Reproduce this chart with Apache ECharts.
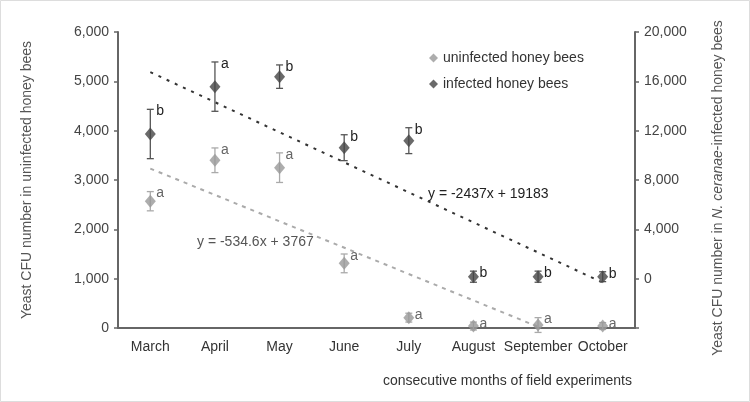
<!DOCTYPE html>
<html><head><meta charset="utf-8">
<script src="https://cdn.jsdelivr.net/npm/echarts@6/dist/echarts.min.js"></script>
<style>html,body{margin:0;padding:0;background:#fff}#c{width:750px;height:402px}</style>
</head><body><div id="c"></div><script>
const months = ['March','April','May','June','July','August','September','October'];
const uninfected = [2570, 3400, 3250, 1310, 210, 40, 60, 40];
const uninfectedErr = [195, 250, 300, 190, 90, 80, 150, 70];
const uninfectedLetters = ['a','a','a','a','a','a','a','a'];
const infected = [11730, 15570, 16380, 10620, 11190, 160, 160, 160];
const infectedErr = [2000, 2000, 950, 1050, 1050, 450, 450, 400];
const infectedLetters = ['b','a','b','b','b','b','b','b'];
const leftAxis = {min: 0, max: 6000, interval: 1000};
const rightAxis = {min: -4000, max: 20000, interval: 4000};
const trendUninfected = [['March', 3232], ['September', 25]];
const trendInfected = [['March', 16746], ['October', -313]];
const eqUninfected = 'y = -534.6x + 3767';
const eqInfected = 'y = -2437x + 19183';

const FONT = '"Liberation Sans", Arial, sans-serif';
const fmt = v => v.toLocaleString('en-US');

function errRender(color, textColor, letters) {
  return function (params, api) {
    const x = api.value(0), v = api.value(1), e = api.value(2);
    const top = api.coord([x, v + e]), bot = api.coord([x, v - e]);
    const cx = top[0], hw = 3.5;
    const st = {stroke: color, lineWidth: 1.3};
    return {type: 'group', children: [
      {type: 'line', shape: {x1: cx, y1: top[1], x2: cx, y2: bot[1]}, style: st},
      {type: 'line', shape: {x1: cx - hw, y1: top[1], x2: cx + hw, y2: top[1]}, style: st},
      {type: 'line', shape: {x1: cx - hw, y1: bot[1], x2: cx + hw, y2: bot[1]}, style: st},
      {type: 'text', style: {text: letters[params.dataIndex], x: cx + 6, y: top[1] + 2,
        textVerticalAlign: 'middle', textAlign: 'left', fill: textColor, font: '14px ' + FONT}}
    ]};
  };
}

const chart = echarts.init(document.getElementById('c'));
chart.setOption({
  animation: false,
  backgroundColor: '#fff',
  textStyle: {fontFamily: FONT},
  grid: {left: 118, right: 115, top: 32, bottom: 74},
  title: {text: 'consecutive months of field experiments', right: 113, top: 369,
    textStyle: {fontSize: 14, fontWeight: 'normal', color: '#333', fontFamily: FONT}},
  legend: {orient: 'vertical', left: 424, top: 46, itemWidth: 9, itemHeight: 9, itemGap: 12,
    icon: 'diamond', textStyle: {fontSize: 14, color: '#333', fontFamily: FONT},
    data: ['uninfected honey bees', 'infected honey bees']},
  xAxis: {type: 'category', data: months, boundaryGap: true,
    axisLine: {lineStyle: {color: '#666', width: 2}},
    axisTick: {length: 3, lineStyle: {color: '#666', width: 1.5}},
    axisLabel: {fontSize: 14, color: '#333', margin: 12, interval: 0, hideOverlap: false},
    splitLine: {show: false}},
  yAxis: [
    {type: 'value', position: 'left', min: leftAxis.min, max: leftAxis.max, interval: leftAxis.interval,
      name: 'Yeast CFU number in uninfected honey bees', nameLocation: 'middle', nameRotate: 90, nameGap: 84,
      nameTextStyle: {fontSize: 14, color: '#555', fontFamily: FONT},
      axisLine: {show: true, lineStyle: {color: '#666', width: 2}},
      axisTick: {show: true, length: 4, lineStyle: {color: '#666', width: 1.5}},
      axisLabel: {fontSize: 14, color: '#444', margin: 9, formatter: fmt},
      splitLine: {show: false}},
    {type: 'value', position: 'right', min: rightAxis.min, max: rightAxis.max, interval: rightAxis.interval,
      name: '{n|Yeast CFU number in }{i|N. ceranae}{n|-infected honey bees}', nameLocation: 'middle', nameRotate: 90, nameGap: 76,
      nameTextStyle: {padding: [0, 16, 0, 0], rich: {n: {fontSize: 14, color: '#555', fontFamily: FONT}, i: {fontSize: 14, color: '#555', fontStyle: 'italic', fontFamily: FONT}}},
      axisLine: {show: true, lineStyle: {color: '#666', width: 2}},
      axisTick: {show: true, length: 4, lineStyle: {color: '#666', width: 1.5}},
      axisLabel: {fontSize: 14, color: '#444', margin: 9, formatter: v => v < 0 ? '' : fmt(v)},
      splitLine: {show: false}}
  ],
  series: [
    {type: 'line', yAxisIndex: 0, data: trendUninfected, symbol: 'none', silent: true,
      lineStyle: {color: '#aaa', width: 2, type: [4, 5]}, z: 1},
    {type: 'line', yAxisIndex: 1, data: trendInfected, symbol: 'none', silent: true,
      lineStyle: {color: '#333', width: 2, type: [3, 6]}, z: 1},
    {type: 'custom', yAxisIndex: 0, renderItem: errRender('#aaa', '#666', uninfectedLetters),
      data: uninfected.map((v, i) => [i, v, uninfectedErr[i]]), encode: {x: 0, y: 1}, z: 2, clip: false},
    {type: 'custom', yAxisIndex: 1, renderItem: errRender('#555', '#222', infectedLetters),
      data: infected.map((v, i) => [i, v, infectedErr[i]]), encode: {x: 0, y: 1}, z: 2, clip: false},
    {name: 'uninfected honey bees', type: 'scatter', yAxisIndex: 0, data: uninfected,
      symbol: 'diamond', symbolSize: [11, 13], itemStyle: {color: '#999'}, z: 3},
    {name: 'infected honey bees', type: 'scatter', yAxisIndex: 1, data: infected,
      symbol: 'diamond', symbolSize: [11, 13], itemStyle: {color: '#454545'}, z: 3}
  ],
  graphic: [
    {type: 'text', left: 428, top: 187, z: 10, style: {text: eqInfected, font: '14px ' + FONT, fill: '#222'}},
    {type: 'text', left: 197, top: 235, z: 10, style: {text: eqUninfected, font: '14px ' + FONT, fill: '#555'}},
    {type: 'rect', shape: {x: 0.5, y: 0.5, width: 749, height: 401}, style: {fill: 'none', stroke: '#ddd', lineWidth: 1}, silent: true}
  ]
});
</script></body></html>
